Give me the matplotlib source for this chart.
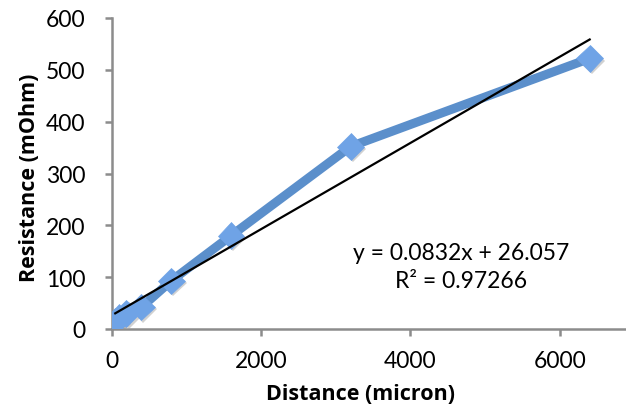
import matplotlib
matplotlib.use("Agg")
import matplotlib.pyplot as plt
import matplotlib.patheffects as pe
import numpy as np

plt.rcParams['font.family'] = ['Lato', 'DejaVu Sans']

# Measured resistance along the trace
distance = [50, 100, 200, 400, 800, 1600, 3200, 6400]          # micron
resistance = [14, 22, 30, 42, 93, 180, 352, 522]               # mOhm

# Linear fit reported on the chart
slope = 0.0832
intercept = 26.057
r_squared = 0.97266

x_ticks = [0, 2000, 4000, 6000]
y_ticks = [0, 100, 200, 300, 400, 500, 600]

W, H = 626, 406
fig = plt.figure(figsize=(W / 100, H / 100), dpi=100)
left, right, bottom, top = 111.5, 634.5, 76, 387
ax = fig.add_axes([left / W, bottom / H, (right - left) / W, (top - bottom) / H])

line_blue = '#5B8FCB'
marker_blue = '#6FA3E6'
axis_grey = '#8C8C8C'

ax.plot(distance, resistance, color=line_blue, lw=6.5, solid_capstyle='butt',
        solid_joinstyle='round', zorder=2)
ax.plot(distance, resistance, ls='none', marker='D', ms=13.5, mfc=marker_blue,
        mec=marker_blue, mew=0.5, zorder=3,
        path_effects=[pe.SimplePatchShadow(offset=(1.5, -1.5), shadow_rgbFace='#9a9a9a',
                                           alpha=0.45), pe.Normal()])

fit_x = np.array([min(distance), max(distance)])
ax.plot(fit_x, slope * fit_x + intercept, color='black', lw=1.6, zorder=4)

ax.text(0.669, 0.2, f"y = {slope}x + {intercept}\nR² = {r_squared}",
        transform=ax.transAxes, ha='center', va='center', fontsize=16.5,
        linespacing=1.4, color='black')

ax.set_xlim(0, 7000)
ax.set_ylim(0, 600)
ax.set_xticks(x_ticks)
ax.set_yticks(y_ticks)

for side in ('top', 'right'):
    ax.spines[side].set_visible(False)
for side in ('left', 'bottom'):
    ax.spines[side].set_color(axis_grey)
    ax.spines[side].set_linewidth(1.8)

ax.tick_params(axis='both', direction='out', length=5, width=1.8, color=axis_grey,
               labelsize=16.5, labelcolor='black')
ax.tick_params(axis='y', pad=14)
ax.tick_params(axis='x', pad=10)

label_font = ['Open Sans', 'DejaVu Sans']
ax.set_xlabel('Distance (micron)', fontsize=15.5, fontweight='bold', family=label_font)
ax.set_ylabel('Resistance (mOhm)', fontsize=15.5, fontweight='bold', family=label_font)
ax.xaxis.set_label_coords((361 - left) / (right - left), -0.174)
ax.yaxis.set_label_coords(-0.137, 0.49)

fig.savefig('out.png', dpi=100)
